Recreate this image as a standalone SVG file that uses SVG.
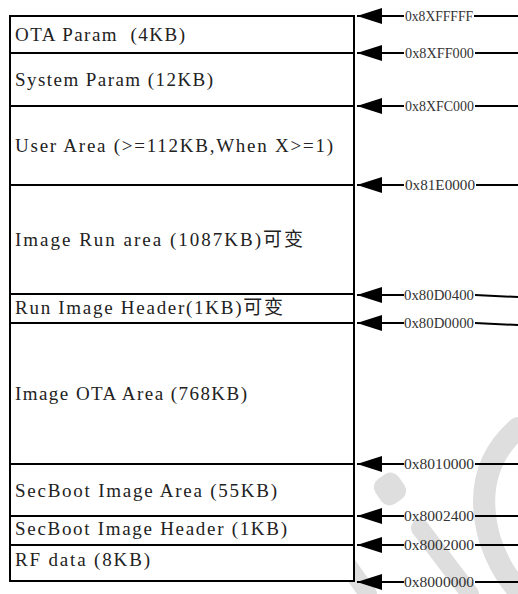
<svg xmlns="http://www.w3.org/2000/svg" width="518" height="594" viewBox="0 0 518 594">
<defs>
<marker id="ah" markerUnits="userSpaceOnUse" markerWidth="25" markerHeight="16" viewBox="0 0 25 16" refX="25" refY="8" orient="auto">
<path d="M0,0 L25,8 L0,16 z" fill="#000"/>
</marker>
</defs>
<style>
.box{fill:#fff;stroke:#000;stroke-width:2}
.t{font-family:"Liberation Serif","Noto Sans CJK SC",serif;font-size:19px;fill:#222}
.a{font-family:"Liberation Serif","Times New Roman",serif;font-size:15px;fill:#333}
.c{stroke:#000;stroke-width:2;fill:none}
.wm{stroke:#dedede;fill:none;stroke-linecap:round}
</style>
<rect width="518" height="594" fill="#fff"/>
<g id="watermark">
<path class="wm" d="M518,428 Q470,470 490,540 Q500,570 518,590" stroke-width="22"/>
<rect x="376" y="474" width="28" height="30" rx="10" fill="#dedede" transform="rotate(-35 390 489)"/>
<path class="wm" d="M420,528 L470,594" stroke-width="18"/>
<path class="wm" d="M330,540 L368,594" stroke-width="18"/>
</g>
<g id="memory">
<rect class="box" x="10" y="16" width="344" height="565"/>
<g id="ota-param"><line class="c" x1="10" y1="53" x2="354" y2="53"/><text class="t" x="15" y="41" textLength="170" lengthAdjust="spacing">OTA Param&#160; (4KB)</text></g>
<g id="system-param"><line class="c" x1="10" y1="106" x2="354" y2="106"/><text class="t" x="15" y="86" textLength="198" lengthAdjust="spacing">System Param (12KB)</text></g>
<g id="user-area"><line class="c" x1="10" y1="185" x2="354" y2="185"/><text class="t" x="15" y="152" textLength="318" lengthAdjust="spacing">User Area (&gt;=112KB,When X&gt;=1)</text></g>
<g id="image-run-area"><line class="c" x1="10" y1="294" x2="354" y2="294"/><text class="t" x="15" y="246" textLength="288" lengthAdjust="spacing">Image Run area (1087KB)可变</text></g>
<g id="run-image-header"><line class="c" x1="10" y1="323" x2="354" y2="323"/><text class="t" x="15" y="314" textLength="268" lengthAdjust="spacing">Run Image Header(1KB)可变</text></g>
<g id="image-ota-area"><line class="c" x1="10" y1="464" x2="354" y2="464"/><text class="t" x="15" y="400" textLength="232" lengthAdjust="spacing">Image OTA Area (768KB)</text></g>
<g id="secboot-image-area"><line class="c" x1="10" y1="516" x2="354" y2="516"/><text class="t" x="15" y="497" textLength="262" lengthAdjust="spacing">SecBoot Image Area (55KB)</text></g>
<g id="secboot-image-header"><line class="c" x1="10" y1="545" x2="354" y2="545"/><text class="t" x="15" y="535" textLength="272" lengthAdjust="spacing">SecBoot Image Header (1KB)</text></g>
<g id="rf-data"><text class="t" x="15" y="566" textLength="135" lengthAdjust="spacing">RF data (8KB)</text></g>
</g>
<g id="connectors">
<g><path class="c" d="M404,16 L357,16" marker-end="url(#ah)"/><path class="c" d="M474,16 L518,16"/><text class="a" x="405" y="21" textLength="68" lengthAdjust="spacingAndGlyphs">0x8XFFFFF</text></g>
<g><path class="c" d="M404,53 L357,53" marker-end="url(#ah)"/><path class="c" d="M475,53 L518,53"/><text class="a" x="405" y="58" textLength="69" lengthAdjust="spacingAndGlyphs">0x8XFF000</text></g>
<g><path class="c" d="M404,106 L357,106" marker-end="url(#ah)"/><path class="c" d="M475,106 L518,106"/><text class="a" x="405" y="111" textLength="69" lengthAdjust="spacingAndGlyphs">0x8XFC000</text></g>
<g><path class="c" d="M404,185 L357,185" marker-end="url(#ah)"/><path class="c" d="M476,185 L518,185"/><text class="a" x="405" y="190" textLength="70" lengthAdjust="spacingAndGlyphs">0x81E0000</text></g>
<g><path class="c" d="M404,295 L357,295" marker-end="url(#ah)"/><path class="c" d="M475,295 L518,297"/><text class="a" x="404" y="300" textLength="70" lengthAdjust="spacingAndGlyphs">0x80D0400</text></g>
<g><path class="c" d="M404,323 L357,323" marker-end="url(#ah)"/><path class="c" d="M475,323 L518,325"/><text class="a" x="404" y="328" textLength="70" lengthAdjust="spacingAndGlyphs">0x80D0000</text></g>
<g><path class="c" d="M404,464 L357,464" marker-end="url(#ah)"/><path class="c" d="M475,464 L518,464"/><text class="a" x="404" y="469" textLength="70" lengthAdjust="spacingAndGlyphs">0x8010000</text></g>
<g><path class="c" d="M404,516 L357,516" marker-end="url(#ah)"/><path class="c" d="M475,516 L518,516"/><text class="a" x="404" y="521" textLength="70" lengthAdjust="spacingAndGlyphs">0x8002400</text></g>
<g><path class="c" d="M404,545 L357,545" marker-end="url(#ah)"/><path class="c" d="M475,545 L518,545"/><text class="a" x="404" y="550" textLength="70" lengthAdjust="spacingAndGlyphs">0x8002000</text></g>
<g><path class="c" d="M404,582 L357,582" marker-end="url(#ah)"/><path class="c" d="M475,582 L518,582"/><text class="a" x="404" y="587" textLength="70" lengthAdjust="spacingAndGlyphs">0x8000000</text></g>
</g>
</svg>
